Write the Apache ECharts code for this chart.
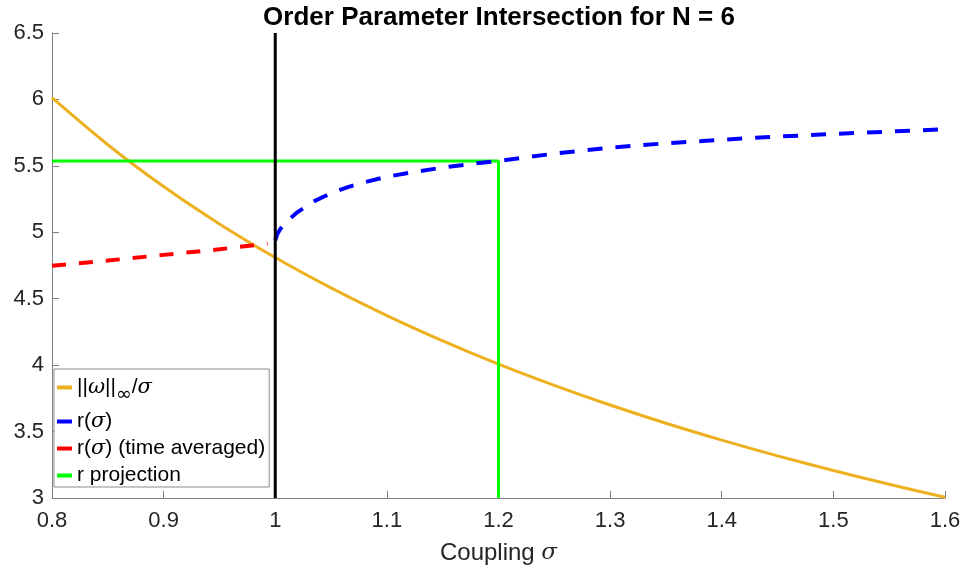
<!DOCTYPE html>
<html>
<head>
<meta charset="utf-8">
<script src="https://cdn.jsdelivr.net/npm/echarts@6/dist/echarts.min.js"></script>
<style>
  html, body { margin: 0; padding: 0; background: #fff; }
  #chart { width: 968px; height: 575px; }
</style>
</head>
<body>
<div id="chart"></div>
<script>
// Coupling strengths and the ||omega||_inf / sigma curve
const sigmaGrid = [0.80, 0.85, 0.90, 0.95, 1.00, 1.05, 1.10, 1.15, 1.20, 1.25, 1.30, 1.35, 1.40, 1.45, 1.50, 1.55, 1.60];
const normOverSigma = [6.013, 5.659, 5.344, 5.063, 4.810, 4.581, 4.373, 4.183, 4.008, 3.848, 3.700, 3.563, 3.436, 3.317, 3.207, 3.103, 3.006];

// Order parameter below the critical coupling (time averaged)
const sigmaAvg = [0.80, 0.85, 0.90, 0.95, 0.993];
const rAvg = [4.748, 4.787, 4.830, 4.872, 4.915];

// Order parameter above the critical coupling
const sigmaSync = [1.000, 1.002, 1.005, 1.010, 1.020, 1.035, 1.050, 1.065, 1.080, 1.100, 1.125, 1.150, 1.175, 1.200, 1.250, 1.300, 1.350, 1.400, 1.450, 1.500, 1.550, 1.600];
const rSync = [4.940, 4.990, 5.030, 5.080, 5.152, 5.235, 5.294, 5.340, 5.377, 5.418, 5.455, 5.487, 5.514, 5.537, 5.592, 5.637, 5.670, 5.697, 5.720, 5.740, 5.758, 5.775];

// Critical coupling and projection of r at sigma = 1.2
const sigmaCritical = 1.0;
const sigmaProjection = 1.2;
const rProjection = 5.537;

// Axis ranges
const xRange = [0.8, 1.6];
const yRange = [3, 6.5];

const zip = (xs, ys) => xs.map((x, i) => [x, ys[i]]);

const font = 'Liberation Sans, Arial, Helvetica, sans-serif';
const axisGrey = '#7f7f7f';
const labelColor = '#262626';

const legendRich = {
  t: { fontSize: 21, fontFamily: font, color: '#000' },
  i: { fontSize: 21, fontFamily: 'DejaVu Serif, serif', fontStyle: 'italic', color: '#000' },
  sub: { fontSize: 19, fontFamily: 'DejaVu Sans, sans-serif', color: '#000', padding: [16, 0, 0, 0] }
};

const legendLabels = {
  'norm': '{t|||}{i|ω}{t|||}{sub|∞}{t|/}{i|σ}',
  'r': '{t|r(}{i|σ}{t|)}',
  'rAvg': '{t|r(}{i|σ}{t|) (time averaged)}',
  'proj': '{t|r projection}'
};

const chart = echarts.init(document.getElementById('chart'), null, { renderer: 'canvas' });

chart.setOption({
  animation: false,
  backgroundColor: '#ffffff',
  title: {
    text: 'Order Parameter Intersection for N = 6',
    left: 494,
    textAlign: 'center',
    top: 0,
    textStyle: { fontFamily: font, fontWeight: 'bold', fontSize: 26, color: '#000' }
  },
  grid: { left: 52, right: 23, top: 33, bottom: 77, containLabel: false },
  legend: {
    orient: 'vertical',
    left: 54,
    top: 369,
    padding: [8, 4, 1, 3],
    itemGap: 6,
    itemWidth: 15,
    itemHeight: 4,
    icon: 'rect',
    borderColor: '#8c8c8c',
    borderWidth: 1,
    backgroundColor: '#ffffff',
    data: ['norm', 'r', 'rAvg', 'proj'],
    formatter: name => legendLabels[name],
    textStyle: { rich: legendRich }
  },
  xAxis: {
    type: 'value',
    min: xRange[0],
    max: xRange[1],
    interval: 0.1,
    name: 'Coupling {i|σ}',
    nameLocation: 'middle',
    nameGap: 43,
    nameTextStyle: {
      fontFamily: font, fontSize: 24, color: labelColor,
      rich: { i: { fontFamily: 'DejaVu Serif, serif', fontStyle: 'italic', fontSize: 23, color: labelColor } }
    },
    axisLine: { show: true, onZero: false, lineStyle: { color: axisGrey, width: 1 } },
    axisTick: { show: true, inside: true, length: 7, lineStyle: { color: axisGrey } },
    axisLabel: { fontFamily: font, fontSize: 22, color: labelColor, margin: 12 },
    splitLine: { show: false }
  },
  yAxis: {
    type: 'value',
    min: yRange[0],
    max: yRange[1],
    interval: 0.5,
    axisLine: { show: true, onZero: false, lineStyle: { color: axisGrey, width: 1 } },
    axisTick: { show: true, inside: true, length: 7, lineStyle: { color: axisGrey } },
    axisLabel: { fontFamily: font, fontSize: 22, color: labelColor, margin: 8 },
    splitLine: { show: false }
  },
  series: [
    {
      name: 'norm',
      type: 'line',
      data: zip(sigmaGrid, normOverSigma),
      smooth: 0.3,
      showSymbol: false,
      color: '#EDB120',
      lineStyle: { width: 3, color: '#EDB120' },
      z: 2
    },
    {
      name: 'r',
      type: 'line',
      data: zip(sigmaSync, rSync),
      smooth: false,
      showSymbol: false,
      color: '#0000FF',
      lineStyle: { width: 4, color: '#0000FF', type: [15, 13] },
      z: 3
    },
    {
      name: 'rAvg',
      type: 'line',
      data: zip(sigmaAvg, rAvg),
      smooth: false,
      showSymbol: false,
      color: '#FF0000',
      lineStyle: { width: 4, color: '#FF0000', type: [14, 13] },
      z: 3
    },
    {
      name: 'proj',
      type: 'line',
      data: [[xRange[0], rProjection], [sigmaProjection, rProjection], [sigmaProjection, yRange[0]]],
      showSymbol: false,
      color: '#00FF00',
      lineStyle: { width: 3, color: '#00FF00' },
      z: 2
    },
    {
      name: 'critical',
      type: 'line',
      data: [[sigmaCritical, yRange[0]], [sigmaCritical, yRange[1]]],
      showSymbol: false,
      color: '#000000',
      lineStyle: { width: 3, color: '#000000' },
      z: 4
    }
  ]
});
</script>
</body>
</html>
